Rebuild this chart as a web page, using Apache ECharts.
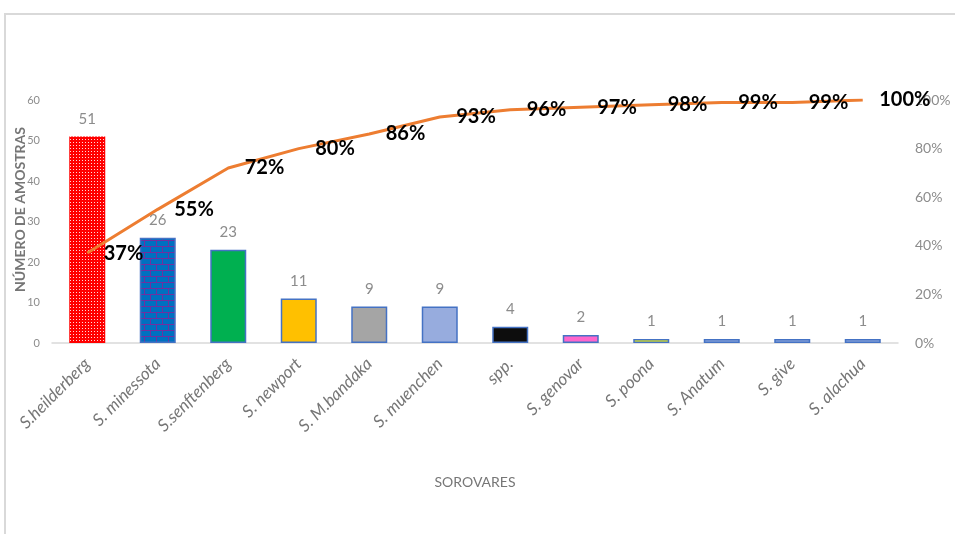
<!DOCTYPE html>
<html>
<head>
<meta charset="utf-8">
<script src="https://cdn.jsdelivr.net/npm/echarts@6/dist/echarts.min.js"></script>
<style>
  html, body { margin: 0; padding: 0; background: #fff; }
  #chart { width: 955px; height: 534px; }
</style>
</head>
<body>
<div id="chart"></div>
<script>
// Serovars and sample counts
const categories = ['S.heilderberg', 'S. minessota', 'S.senftenberg', 'S. newport', 'S. M.bandaka',
  'S. muenchen', 'spp.', 'S. genovar', 'S. poona', 'S. Anatum', 'S. give', 'S. alachua'];
const sampleCounts = [51, 26, 23, 11, 9, 9, 4, 2, 1, 1, 1, 1];
// Cumulative share (%) for the Pareto line
const cumulativePct = [37, 55, 72, 80, 86, 93, 96, 97, 98, 99, 99, 100];
const leftTicks = { min: 0, max: 60, interval: 10 };
const rightTicks = { min: 0, max: 100, interval: 20 };

// Small repeating fill patterns
function dotPattern() {
  const c = document.createElement('canvas');
  c.width = 3; c.height = 3;
  const g = c.getContext('2d');
  g.fillStyle = '#ff0000'; g.fillRect(0, 0, 3, 3);
  g.fillStyle = 'rgba(255,255,255,0.85)'; g.fillRect(1, 1, 1, 1);
  return { image: c, repeat: 'repeat' };
}
function brickPattern() {
  const c = document.createElement('canvas');
  c.width = 12; c.height = 12;
  const g = c.getContext('2d');
  g.fillStyle = '#0070c0'; g.fillRect(0, 0, 12, 12);
  g.fillStyle = '#7030a0';
  g.fillRect(0, 0, 12, 1);
  g.fillRect(0, 6, 12, 1);
  g.fillRect(0, 0, 1, 6);
  g.fillRect(6, 6, 1, 6);
  return { image: c, repeat: 'repeat' };
}

const barFills = [dotPattern(), brickPattern(), '#00b050', '#ffc000', '#a5a5a5', '#97acde',
  '#0d0d0d', '#ff66cc', '#ffff00', '#97acde', '#97acde', '#97acde'];

const barData = sampleCounts.map((v, i) => ({
  value: v,
  itemStyle: {
    color: barFills[i],
    borderColor: i === 0 ? 'rgba(0,0,0,0)' : '#4472c4',
    borderWidth: i === 0 ? 0 : 1.5
  }
}));

const chart = echarts.init(document.getElementById('chart'));
chart.setOption({
  animation: false,
  textStyle: { fontFamily: 'Lato' },
  graphic: [{
    type: 'rect',
    shape: { x: 5, y: 14, width: 980, height: 560 },
    style: { fill: 'none', stroke: '#d9d9d9', lineWidth: 2 },
    silent: true
  }],
  grid: { left: 52, right: 57, top: 100, bottom: 191, containLabel: false, outerBoundsMode: 'none' },
  xAxis: {
    type: 'category',
    data: categories,
    name: 'SOROVARES',
    nameLocation: 'middle',
    nameGap: 132,
    nameMoveOverlap: false,
    nameTextStyle: { color: '#767676', fontSize: 14, fontFamily: 'Lato' },
    axisLine: { lineStyle: { color: '#d9d9d9', width: 1.5 } },
    axisTick: { show: false },
    axisLabel: {
      rotate: 45, interval: 0, margin: 18,
      color: '#767676', fontSize: 17, fontStyle: 'italic', fontFamily: 'Lato'
    }
  },
  yAxis: [{
    type: 'value',
    min: leftTicks.min, max: leftTicks.max, interval: leftTicks.interval,
    name: 'NÚMERO DE AMOSTRAS',
    nameLocation: 'middle',
    nameGap: 25,
    nameMoveOverlap: false,
    nameTextStyle: {
      color: '#767676', fontSize: 14, fontWeight: 'bold', fontFamily: 'Lato',
      padding: [0, 0, 0, 24]
    },
    axisLine: { show: false },
    axisTick: { show: false },
    splitLine: { show: false },
    axisLabel: { color: '#8c8c8c', fontSize: 11, margin: 12 }
  }, {
    type: 'value',
    position: 'right',
    min: rightTicks.min, max: rightTicks.max, interval: rightTicks.interval,
    axisLine: { show: false },
    axisTick: { show: false },
    splitLine: { show: false },
    axisLabel: { color: '#8c8c8c', fontSize: 14, margin: 17, formatter: '{value}%' }
  }],
  series: [{
    type: 'bar',
    yAxisIndex: 0,
    data: barData,
    barWidth: 36,
    label: {
      show: true, position: 'top', distance: 10,
      color: '#8c8c8c', fontSize: 15
    },
    z: 2
  }, {
    type: 'line',
    yAxisIndex: 1,
    data: cumulativePct,
    showSymbol: true,
    symbol: 'circle',
    symbolSize: 1,
    itemStyle: { color: 'rgba(237,125,49,0)' },
    lineStyle: { color: '#ed7d31', width: 3 },
    label: {
      show: true, position: 'right', distance: 16, offset: [0, 4],
      color: '#000', fontSize: 20, fontWeight: 'bold',
      fontFamily: 'Lato',
      formatter: p => p.value + '%'
    },
    labelLayout: { hideOverlap: false },
    z: 3
  }]
});
</script>
</body>
</html>
